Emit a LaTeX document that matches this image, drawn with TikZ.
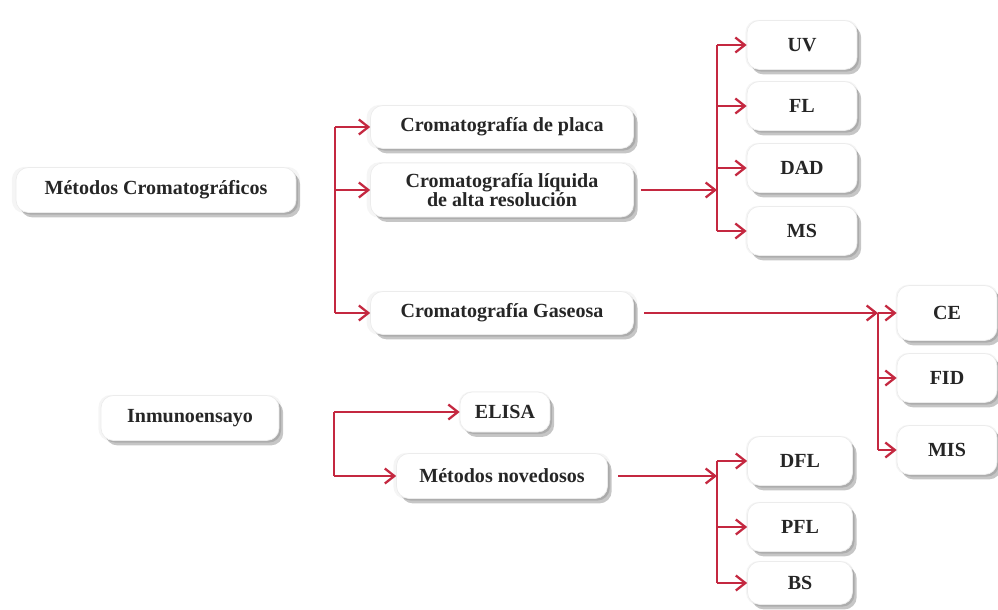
\documentclass[tikz,border=0pt]{standalone}
\usepackage{fontspec}
\setmainfont{Liberation Serif}
\usepackage{xcolor}
\usetikzlibrary{arrows.meta,shadows}
\definecolor{linkred}{RGB}{196,40,64}

\begin{document}
\begin{tikzpicture}[x=0.02cm, y=-0.02cm, >={Straight Barb[length=1.9mm, width=3mm]}]
  % Styles
  \tikzstyle{box}=[draw=gray!15, fill=white, rounded corners=7pt, align=center,
    font=\fontsize{11.4}{12.4}\selectfont\bfseries, text=black!85,
    general shadow={shadow scale=1.03, opacity=0.08, fill=gray},
    drop shadow={shadow xshift=1.2pt, shadow yshift=-1.2pt, opacity=0.35, fill=gray},
    drop shadow={shadow xshift=2.4pt, shadow yshift=-2.8pt, opacity=0.45, fill=gray}]
  \tikzstyle{wide}=[box, minimum width=5.26cm, minimum height=0.86cm]
  \tikzstyle{tip}=[box, minimum width=2.2cm, minimum height=0.98cm]
  \tikzstyle{link}=[draw=linkred, line width=1.3pt]

  \useasboundingbox (0,0) rectangle (998,609);

  % Left roots
  \node[box, minimum width=5.6cm, minimum height=0.9cm] (metcrom) at (156,190) {Métodos Cromatográficos};
  \node[box, minimum width=3.56cm, minimum height=0.9cm] (inmuno) at (190,418) {Inmunoensayo};

  % Chromatography branch
  \node[wide] (placa) at (502,127) {Cromatografía de placa};
  \node[wide, minimum height=1.08cm] (hplc) at (502,190) {Cromatografía líquida\\[-2pt]de alta resolución};
  \node[wide] (gas) at (502,313) {Cromatografía Gaseosa};

  \coordinate (crtop) at (335,127);
  \coordinate (crbot) at (335,313);
  \draw[link] (crtop) -- (crbot);
  \draw[link,->] (crtop) -- (placa.west);
  \draw[link,->] (crtop |- hplc.west) -- (hplc.west);
  \draw[link,->] (crbot) -- (gas.west);

  % HPLC detectors
  \node[tip] (uv) at (802,45) {UV};
  \node[tip] (fl) at (802,106) {FL};
  \node[tip] (dad) at (802,168) {DAD};
  \node[tip] (ms) at (802,231) {MS};

  \coordinate (hj) at (717,190);
  \draw[link,->] ([xshift=4pt]hplc.east) -- (hj);
  \draw[link] (hj |- uv) -- (hj |- ms);
  \foreach \d in {uv,fl,dad,ms}
    \draw[link,->] (hj |- \d) -- (\d.west);

  % GC detectors
  \node[tip, minimum width=2.0cm, minimum height=1.1cm] (ce) at (947,313) {CE};
  \node[tip, minimum width=2.0cm] (fid) at (947,378) {FID};
  \node[tip, minimum width=2.0cm] (mis) at (947,450) {MIS};

  \coordinate (gj) at (878,313);
  \draw[link,->] ([xshift=6pt]gas.east) -- (gj);
  \draw[link] (gj) -- (gj |- mis);
  \foreach \d in {ce,fid,mis}
    \draw[link,->] (gj |- \d) -- (\d.west);

  % Immunoassay branch
  \node[box, minimum width=1.8cm, minimum height=0.8cm] (elisa) at (505,412) {ELISA};
  \node[box, minimum width=4.22cm, minimum height=0.9cm] (metnov) at (502,476) {Métodos novedosos};

  \coordinate (ij) at (334,412);
  \draw[link] (ij) -- (ij |- metnov);
  \draw[link,->] (ij) -- (elisa.west);
  \draw[link,->] (ij |- metnov) -- (metnov.west);

  % Novel methods
  \node[tip, minimum width=2.1cm] (dfl) at (800,461) {DFL};
  \node[tip, minimum width=2.1cm] (pfl) at (800,527) {PFL};
  \node[tip, minimum width=2.1cm, minimum height=0.86cm] (bs) at (800,583) {BS};

  \coordinate (nj) at (717,476);
  \draw[link,->] ([xshift=6pt]metnov.east) -- (nj);
  \draw[link] (nj |- dfl) -- (nj |- bs);
  \foreach \d in {dfl,pfl,bs}
    \draw[link,->] (nj |- \d) -- (\d.west);
\end{tikzpicture}
\end{document}
